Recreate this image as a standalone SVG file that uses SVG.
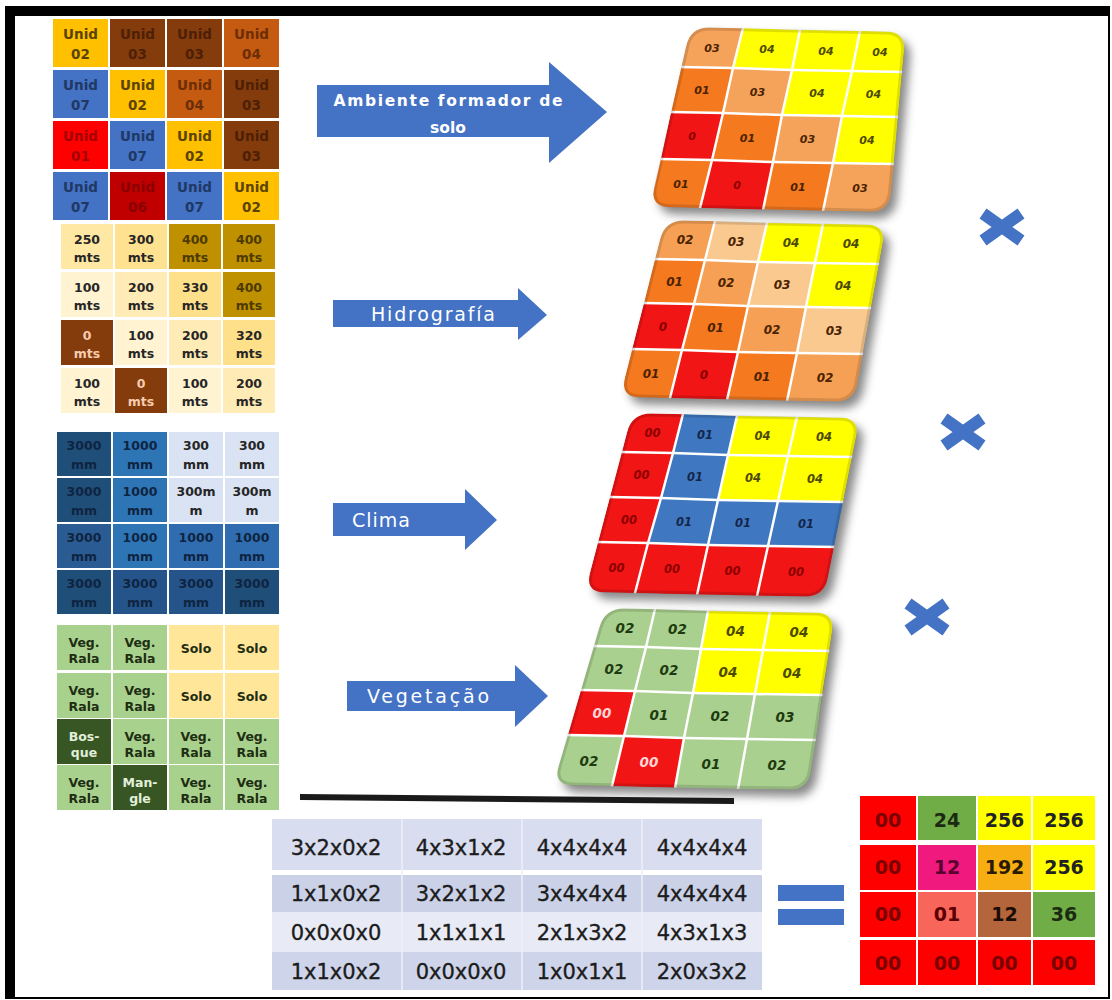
<svg xmlns="http://www.w3.org/2000/svg" width="1112" height="1000" viewBox="0 0 1112 1000">
<style>
.cellt{font-family:"DejaVu Sans",sans-serif;font-weight:bold;text-anchor:middle}
.u{font-size:13.5px}
.mt{font-size:12.5px}
.vg{font-size:12.5px}
.tt{font-family:"DejaVu Sans",sans-serif;font-weight:bold;font-style:italic;text-anchor:middle}
.grid{fill:none;stroke:#fff;stroke-width:2.5;stroke-linecap:square}
.bevel{fill:none;stroke:#000;stroke-opacity:.13;stroke-width:6}
.shadow{fill:#3a3a3a;opacity:.6}
.blk{fill:#4472C4}
.lbl{font-family:"DejaVu Sans",sans-serif;fill:#fff;text-anchor:middle}
.calc{font-family:"DejaVu Sans",sans-serif;font-size:21px;fill:#1c1c1c;stroke:#1c1c1c;stroke-width:.35;text-anchor:middle}
.res{font-family:"DejaVu Sans",sans-serif;font-size:19px;font-weight:bold;text-anchor:middle}
.mul{stroke:#4472C4;stroke-width:12;fill:none}
</style>
<defs>
<filter id="blur" x="-20%" y="-20%" width="140%" height="140%"><feGaussianBlur stdDeviation="5"/></filter>
<path id="o1" d="M710,27.5 L886,31.5 Q906,32 904,52 L891,192 Q889,212 869,211.7 L670,207.3 Q650,207 654,187 L686,47 Q690,27 710,27.5 Z"/>
<path id="o2" d="M685,220.5 L866,224.5 Q886,225 882.5,244.5 L857.5,382.5 Q854,402 834,401.6 L640,397.4 Q620,397 625,377.5 L660,239.5 Q665,220 685,220.5 Z"/>
<path id="o3" d="M652,413.4 L840,417.6 Q860,418 856,437.7 L828,577.3 Q824,597 804,596.6 L605,592.4 Q585,592 590,572.7 L627,432.3 Q632,413 652,413.4 Z"/>
<path id="o4" d="M625,608.4 L815,612.6 Q835,613 832,632.8 L811,770.2 Q808,790 788,789.6 L573,785.4 Q553,785 558.6,765.9 L599.4,627.1 Q605,608 625,608.4 Z"/>
<clipPath id="c1"><use href="#o1"/></clipPath>
<clipPath id="c2"><use href="#o2"/></clipPath>
<clipPath id="c3"><use href="#o3"/></clipPath>
<clipPath id="c4"><use href="#o4"/></clipPath>
</defs>

<g id="frame">
<rect x="5" y="6" width="1105" height="993" fill="#000"/>
<rect x="15" y="16" width="1093" height="981" fill="#fff"/>
</g>

<g id="grid-unidades" class="cellt u">
<rect x="53" y="19" width="55" height="48" fill="#FFC000"/><rect x="110" y="19" width="55" height="48" fill="#843C0C"/><rect x="167" y="19" width="55" height="48" fill="#843C0C"/><rect x="224" y="19" width="55" height="48" fill="#C55A11"/>
<rect x="53" y="70" width="55" height="48" fill="#4472C4"/><rect x="110" y="70" width="55" height="48" fill="#FFC000"/><rect x="167" y="70" width="55" height="48" fill="#C55A11"/><rect x="224" y="70" width="55" height="48" fill="#843C0C"/>
<rect x="53" y="121" width="55" height="48" fill="#FF0000"/><rect x="110" y="121" width="55" height="48" fill="#4472C4"/><rect x="167" y="121" width="55" height="48" fill="#FFC000"/><rect x="224" y="121" width="55" height="48" fill="#843C0C"/>
<rect x="53" y="172" width="55" height="48" fill="#4472C4"/><rect x="110" y="172" width="55" height="48" fill="#C00000"/><rect x="167" y="172" width="55" height="48" fill="#4472C4"/><rect x="224" y="172" width="55" height="48" fill="#FFC000"/>
<text x="80.5" y="39" fill="#5b4300">Unid</text><text x="80.5" y="59" fill="#5b4300">02</text>
<text x="137.5" y="39" fill="#4d1f05">Unid</text><text x="137.5" y="59" fill="#4d1f05">03</text>
<text x="194.5" y="39" fill="#4d1f05">Unid</text><text x="194.5" y="59" fill="#4d1f05">03</text>
<text x="251.5" y="39" fill="#6b2e06">Unid</text><text x="251.5" y="59" fill="#6b2e06">04</text>
<text x="80.5" y="90" fill="#1f3864">Unid</text><text x="80.5" y="110" fill="#1f3864">07</text>
<text x="137.5" y="90" fill="#5b4300">Unid</text><text x="137.5" y="110" fill="#5b4300">02</text>
<text x="194.5" y="90" fill="#6b2e06">Unid</text><text x="194.5" y="110" fill="#6b2e06">04</text>
<text x="251.5" y="90" fill="#4d1f05">Unid</text><text x="251.5" y="110" fill="#4d1f05">03</text>
<text x="80.5" y="141" fill="#a50000">Unid</text><text x="80.5" y="161" fill="#a50000">01</text>
<text x="137.5" y="141" fill="#1f3864">Unid</text><text x="137.5" y="161" fill="#1f3864">07</text>
<text x="194.5" y="141" fill="#5b4300">Unid</text><text x="194.5" y="161" fill="#5b4300">02</text>
<text x="251.5" y="141" fill="#4d1f05">Unid</text><text x="251.5" y="161" fill="#4d1f05">03</text>
<text x="80.5" y="192" fill="#1f3864">Unid</text><text x="80.5" y="212" fill="#1f3864">07</text>
<text x="137.5" y="192" fill="#8a0000">Unid</text><text x="137.5" y="212" fill="#8a0000">06</text>
<text x="194.5" y="192" fill="#1f3864">Unid</text><text x="194.5" y="212" fill="#1f3864">07</text>
<text x="251.5" y="192" fill="#5b4300">Unid</text><text x="251.5" y="212" fill="#5b4300">02</text>
</g>

<g id="grid-hidrografia" class="cellt mt">
<rect x="61" y="224" width="52" height="45" fill="#FFE8A3"/><rect x="115" y="224" width="52" height="45" fill="#FFE28F"/><rect x="169" y="224" width="52" height="45" fill="#BF9000"/><rect x="223" y="224" width="52" height="45" fill="#BF9000"/>
<rect x="61" y="272" width="52" height="45" fill="#FFF3D1"/><rect x="115" y="272" width="52" height="45" fill="#FFEBB5"/><rect x="169" y="272" width="52" height="45" fill="#FFE08A"/><rect x="223" y="272" width="52" height="45" fill="#BF9000"/>
<rect x="61" y="320" width="52" height="45" fill="#843C0C"/><rect x="115" y="320" width="52" height="45" fill="#FFF3D1"/><rect x="169" y="320" width="52" height="45" fill="#FFEBB5"/><rect x="223" y="320" width="52" height="45" fill="#FFE08A"/>
<rect x="61" y="368" width="52" height="45" fill="#FFF3D1"/><rect x="115" y="368" width="52" height="45" fill="#843C0C"/><rect x="169" y="368" width="52" height="45" fill="#FFF3D1"/><rect x="223" y="368" width="52" height="45" fill="#FFEBB5"/>
<g fill="#262626">
<text x="87" y="244">250</text><text x="87" y="262">mts</text>
<text x="141" y="244">300</text><text x="141" y="262">mts</text>
<text x="87" y="292">100</text><text x="87" y="310">mts</text>
<text x="141" y="292">200</text><text x="141" y="310">mts</text>
<text x="195" y="292">330</text><text x="195" y="310">mts</text>
<text x="141" y="340">100</text><text x="141" y="358">mts</text>
<text x="195" y="340">200</text><text x="195" y="358">mts</text>
<text x="249" y="340">320</text><text x="249" y="358">mts</text>
<text x="87" y="388">100</text><text x="87" y="406">mts</text>
<text x="195" y="388">100</text><text x="195" y="406">mts</text>
<text x="249" y="388">200</text><text x="249" y="406">mts</text>
</g>
<g fill="#4d3a00">
<text x="195" y="244">400</text><text x="195" y="262">mts</text>
<text x="249" y="244">400</text><text x="249" y="262">mts</text>
<text x="249" y="292">400</text><text x="249" y="310">mts</text>
</g>
<g fill="#F8CBAD">
<text x="87" y="340">0</text><text x="87" y="358">mts</text>
<text x="141" y="388">0</text><text x="141" y="406">mts</text>
</g>
</g>

<g id="grid-clima" class="cellt mt">
<rect x="57" y="432" width="54" height="44" fill="#1F4E79"/><rect x="113" y="432" width="54" height="44" fill="#2E75B6"/><rect x="169" y="432" width="54" height="44" fill="#DAE3F3"/><rect x="225" y="432" width="54" height="44" fill="#DAE3F3"/>
<rect x="57" y="478" width="54" height="44" fill="#1F4E79"/><rect x="113" y="478" width="54" height="44" fill="#2E75B6"/><rect x="169" y="478" width="54" height="44" fill="#DAE3F3"/><rect x="225" y="478" width="54" height="44" fill="#DAE3F3"/>
<rect x="57" y="524" width="54" height="44" fill="#2A5C93"/><rect x="113" y="524" width="54" height="44" fill="#2E75B6"/><rect x="169" y="524" width="54" height="44" fill="#2F6DB0"/><rect x="225" y="524" width="54" height="44" fill="#2F6DB0"/>
<rect x="57" y="570" width="54" height="44" fill="#1F4E79"/><rect x="113" y="570" width="54" height="44" fill="#24548A"/><rect x="169" y="570" width="54" height="44" fill="#24548A"/><rect x="225" y="570" width="54" height="44" fill="#1F4E79"/>
<g fill="#0f2440">
<text x="84" y="450">3000</text><text x="84" y="469">mm</text>
<text x="140" y="450">1000</text><text x="140" y="469">mm</text>
<text x="84" y="496">3000</text><text x="84" y="515">mm</text>
<text x="140" y="496">1000</text><text x="140" y="515">mm</text>
<text x="84" y="542">3000</text><text x="84" y="561">mm</text>
<text x="140" y="542">1000</text><text x="140" y="561">mm</text>
<text x="196" y="542">1000</text><text x="196" y="561">mm</text>
<text x="252" y="542">1000</text><text x="252" y="561">mm</text>
<text x="84" y="588">3000</text><text x="84" y="607">mm</text>
<text x="140" y="588">3000</text><text x="140" y="607">mm</text>
<text x="196" y="588">3000</text><text x="196" y="607">mm</text>
<text x="252" y="588">3000</text><text x="252" y="607">mm</text>
</g>
<g fill="#262626">
<text x="196" y="450">300</text><text x="196" y="469">mm</text>
<text x="252" y="450">300</text><text x="252" y="469">mm</text>
<text x="196" y="496">300m</text><text x="196" y="515">m</text>
<text x="252" y="496">300m</text><text x="252" y="515">m</text>
</g>
</g>

<g id="grid-vegetacao" class="cellt vg">
<rect x="57" y="625" width="54" height="45" fill="#A9D18E"/><rect x="113" y="625" width="54" height="45" fill="#A9D18E"/><rect x="169" y="625" width="54" height="45" fill="#FFE699"/><rect x="225" y="625" width="54" height="45" fill="#FFE699"/>
<rect x="57" y="673" width="54" height="45" fill="#A9D18E"/><rect x="113" y="673" width="54" height="45" fill="#A9D18E"/><rect x="169" y="673" width="54" height="45" fill="#FFE699"/><rect x="225" y="673" width="54" height="45" fill="#FFE699"/>
<rect x="57" y="719" width="54" height="45" fill="#375623"/><rect x="113" y="719" width="54" height="45" fill="#A9D18E"/><rect x="169" y="719" width="54" height="45" fill="#A9D18E"/><rect x="225" y="719" width="54" height="45" fill="#A9D18E"/>
<rect x="57" y="765" width="54" height="45" fill="#A9D18E"/><rect x="113" y="765" width="54" height="45" fill="#375623"/><rect x="169" y="765" width="54" height="45" fill="#A9D18E"/><rect x="225" y="765" width="54" height="45" fill="#A9D18E"/>
<g fill="#1e2d12">
<text x="84" y="647">Veg.</text><text x="84" y="663">Rala</text>
<text x="140" y="647">Veg.</text><text x="140" y="663">Rala</text>
<text x="196" y="653">Solo</text><text x="252" y="653">Solo</text>
<text x="84" y="695">Veg.</text><text x="84" y="711">Rala</text>
<text x="140" y="695">Veg.</text><text x="140" y="711">Rala</text>
<text x="196" y="701">Solo</text><text x="252" y="701">Solo</text>
<text x="140" y="741">Veg.</text><text x="140" y="757">Rala</text>
<text x="196" y="741">Veg.</text><text x="196" y="757">Rala</text>
<text x="252" y="741">Veg.</text><text x="252" y="757">Rala</text>
<text x="84" y="787">Veg.</text><text x="84" y="803">Rala</text>
<text x="196" y="787">Veg.</text><text x="196" y="803">Rala</text>
<text x="252" y="787">Veg.</text><text x="252" y="803">Rala</text>
</g>
<g fill="#E2EFDA">
<text x="84" y="741">Bos-</text><text x="84" y="757">que</text>
<text x="140" y="787">Man-</text><text x="140" y="803">gle</text>
</g>
</g>

<g id="connectors">
<g id="arrow-ambiente">
<path class="blk" d="M317,85 L549,85 L549,62 L607,112 L549,163 L549,137 L317,137 Z"/>
<text class="lbl" x="448" y="106" font-size="15.5" font-weight="bold" textLength="229" lengthAdjust="spacing">Ambiente formador de</text>
<text class="lbl" x="448" y="133" font-size="15.5" font-weight="bold">solo</text>
</g>
<g id="arrow-hidrografia">
<path class="blk" d="M333,300 L518,300 L518,288 L547,315 L518,340 L518,327 L333,327 Z"/>
<text class="lbl" x="433" y="321" font-size="19" textLength="124" lengthAdjust="spacing">Hidrografía</text>
</g>
<g id="arrow-clima">
<path class="blk" d="M333,503 L465,503 L465,489 L497,520 L465,550 L465,536 L333,536 Z"/>
<text class="lbl" x="381" y="527" font-size="19" textLength="58" lengthAdjust="spacing">Clima</text>
</g>
<g id="arrow-vegetacao">
<path class="blk" d="M347,681 L515,681 L515,665 L548,696 L515,727 L515,711 L347,711 Z"/>
<text class="lbl" x="428" y="703" font-size="19" textLength="122" lengthAdjust="spacing">Vegetação</text>
</g>
</g>

<g id="tile-ambiente">
<use href="#o1" class="shadow" transform="translate(6,7)" filter="url(#blur)"/>
<g clip-path="url(#c1)">
<polygon points="690,27 743,28 733,68 681,67" fill="#F5A35A"/>
<polygon points="743,28 800,30 792,70 733,68" fill="#FFFF00"/>
<polygon points="800,30 860,31 852,71 792,70" fill="#FFFF00"/>
<polygon points="860,31 906,32 902,72 852,71" fill="#FFFF00"/>
<polygon points="681,67 733,68 723,113 671,112" fill="#F5791F"/>
<polygon points="733,68 792,70 782,115 723,113" fill="#F5A35A"/>
<polygon points="792,70 852,71 842,116 782,115" fill="#FFFF00"/>
<polygon points="852,71 902,72 898,117 842,116" fill="#FFFF00"/>
<polygon points="671,112 723,113 712,160 661,159" fill="#F21515"/>
<polygon points="723,113 782,115 773,162 712,160" fill="#F5791F"/>
<polygon points="782,115 842,116 833,163 773,162" fill="#F5A35A"/>
<polygon points="842,116 898,117 894,164 833,163" fill="#FFFF00"/>
<polygon points="661,159 712,160 700,208 650,207" fill="#F5791F"/>
<polygon points="712,160 773,162 763,210 700,208" fill="#F21515"/>
<polygon points="773,162 833,163 823,211 763,210" fill="#F5791F"/>
<polygon points="833,163 894,164 889,212 823,211" fill="#F5A35A"/>
<polyline class="grid" points="681,67 733,68 792,70 852,71 902,72"/>
<polyline class="grid" points="671,112 723,113 782,115 842,116 898,117"/>
<polyline class="grid" points="661,159 712,160 773,162 833,163 894,164"/>
<polyline class="grid" points="743,28 733,68 723,113 712,160 700,208"/>
<polyline class="grid" points="800,30 792,70 782,115 773,162 763,210"/>
<polyline class="grid" points="860,31 852,71 842,116 833,163 823,211"/>
<use href="#o1" class="bevel"/>
</g>
<g class="tt" font-size="11" fill="#4a2200">
<text x="712" y="51.5">03</text><text x="767" y="53" fill="#4d4a00">04</text><text x="826" y="54.5" fill="#4d4a00">04</text><text x="880" y="55.5" fill="#4d4a00">04</text>
<text x="702" y="94">01</text><text x="757.5" y="95.5">03</text><text x="817" y="97" fill="#4d4a00">04</text><text x="873.5" y="98" fill="#4d4a00">04</text>
<text x="692" y="140" fill="#8b0000">0</text><text x="747.5" y="141.5">01</text><text x="807.5" y="143">03</text><text x="867" y="144" fill="#4d4a00">04</text>
<text x="681" y="187.5">01</text><text x="737" y="189" fill="#8b0000">0</text><text x="798" y="190.5">01</text><text x="860" y="191.5">03</text>
</g>
</g>

<g id="tile-hidrografia">
<use href="#o2" class="shadow" transform="translate(6,7)" filter="url(#blur)"/>
<g clip-path="url(#c2)">
<polygon points="665,220 715,221 705,260 655,259" fill="#F5A054"/>
<polygon points="715,221 767,223 758,262 705,260" fill="#F9C990"/>
<polygon points="767,223 823,224 815,263 758,262" fill="#FFFF00"/>
<polygon points="823,224 886,225 879,264 815,263" fill="#FFFF00"/>
<polygon points="655,259 705,260 694,304 644,303" fill="#F5791F"/>
<polygon points="705,260 758,262 748,306 694,304" fill="#F5A054"/>
<polygon points="758,262 815,263 806,307 748,306" fill="#F9C990"/>
<polygon points="815,263 879,264 871,308 806,307" fill="#FFFF00"/>
<polygon points="644,303 694,304 682,350 632,349" fill="#F21515"/>
<polygon points="694,304 748,306 738,352 682,350" fill="#F5791F"/>
<polygon points="748,306 806,307 797,353 738,352" fill="#F5A054"/>
<polygon points="806,307 871,308 863,354 797,353" fill="#F9C990"/>
<polygon points="632,349 682,350 670,398 620,397" fill="#F5791F"/>
<polygon points="682,350 738,352 727,400 670,398" fill="#F21515"/>
<polygon points="738,352 797,353 787,401 727,400" fill="#F5791F"/>
<polygon points="797,353 863,354 854,402 787,401" fill="#F5A054"/>
<polyline class="grid" points="655,259 705,260 758,262 815,263 879,264"/>
<polyline class="grid" points="644,303 694,304 748,306 806,307 871,308"/>
<polyline class="grid" points="632,349 682,350 738,352 797,353 863,354"/>
<polyline class="grid" points="715,221 705,260 694,304 682,350 670,398"/>
<polyline class="grid" points="767,223 758,262 748,306 738,352 727,400"/>
<polyline class="grid" points="823,224 815,263 806,307 797,353 787,401"/>
<use href="#o2" class="bevel"/>
</g>
<g class="tt" font-size="12" fill="#4a2200">
<text x="685" y="244">02</text><text x="736" y="245.5">03</text><text x="791" y="247" fill="#4d4a00">04</text><text x="851" y="248" fill="#4d4a00">04</text>
<text x="674.5" y="285.5">01</text><text x="726" y="287">02</text><text x="782" y="288.5">03</text><text x="843" y="289.5" fill="#4d4a00">04</text>
<text x="663" y="330.5" fill="#8b0000">0</text><text x="715.5" y="332">01</text><text x="772" y="333.5">02</text><text x="834" y="334.5">03</text>
<text x="651" y="377.5">01</text><text x="704" y="379" fill="#8b0000">0</text><text x="762" y="380.5">01</text><text x="825" y="381.5">02</text>
</g>
</g>

<g id="tile-clima">
<use href="#o3" class="shadow" transform="translate(6,7)" filter="url(#blur)"/>
<g clip-path="url(#c3)">
<polygon points="632,413 683,414 673,453 622,452" fill="#F21515"/>
<polygon points="683,414 737,416 728,455 673,453" fill="#3F78C1"/>
<polygon points="737,416 797,417 788,456 728,455" fill="#FFFF00"/>
<polygon points="797,417 860,418 852,457 788,456" fill="#FFFF00"/>
<polygon points="622,452 673,453 661,498 610,497" fill="#F21515"/>
<polygon points="673,453 728,455 718,500 661,498" fill="#3F78C1"/>
<polygon points="728,455 788,456 778,501 718,500" fill="#FFFF00"/>
<polygon points="788,456 852,457 843,502 778,501" fill="#FFFF00"/>
<polygon points="610,497 661,498 648,543 598,542" fill="#F21515"/>
<polygon points="661,498 718,500 708,545 648,543" fill="#3F78C1"/>
<polygon points="718,500 778,501 768,546 708,545" fill="#3F78C1"/>
<polygon points="778,501 843,502 834,547 768,546" fill="#3F78C1"/>
<polygon points="598,542 648,543 635,593 585,592" fill="#F21515"/>
<polygon points="648,543 708,545 697,595 635,593" fill="#F21515"/>
<polygon points="708,545 768,546 757,596 697,595" fill="#F21515"/>
<polygon points="768,546 834,547 824,597 757,596" fill="#F21515"/>
<polyline class="grid" points="622,452 673,453 728,455 788,456 852,457"/>
<polyline class="grid" points="610,497 661,498 718,500 778,501 843,502"/>
<polyline class="grid" points="598,542 648,543 708,545 768,546 834,547"/>
<polyline class="grid" points="683,414 673,453 661,498 648,543 635,593"/>
<polyline class="grid" points="737,416 728,455 718,500 708,545 697,595"/>
<polyline class="grid" points="797,417 788,456 778,501 768,546 757,596"/>
<use href="#o3" class="bevel"/>
</g>
<g class="tt" font-size="11.5" fill="#8b0000">
<text x="652.5" y="437">00</text><text x="705" y="438.5" fill="#14264a">01</text><text x="762.5" y="440" fill="#4d4a00">04</text><text x="824" y="441" fill="#4d4a00">04</text>
<text x="641.5" y="479">00</text><text x="695" y="480.5" fill="#14264a">01</text><text x="753" y="482" fill="#4d4a00">04</text><text x="815" y="483" fill="#4d4a00">04</text>
<text x="629" y="524">00</text><text x="684" y="525.5" fill="#14264a">01</text><text x="743" y="527" fill="#14264a">01</text><text x="806" y="528" fill="#14264a">01</text>
<text x="616.5" y="571.5">00</text><text x="672" y="573">00</text><text x="732.5" y="574.5">00</text><text x="796" y="575.5">00</text>
</g>
</g>

<g id="tile-vegetacao">
<use href="#o4" class="shadow" transform="translate(6,7)" filter="url(#blur)"/>
<g clip-path="url(#c4)">
<polygon points="605,608 655,609 646,647 594,646" fill="#A9D08E"/>
<polygon points="655,609 708,611 701,649 646,647" fill="#A9D08E"/>
<polygon points="708,611 770,612 763,650 701,649" fill="#FFFF00"/>
<polygon points="770,612 835,613 829,651 763,650" fill="#FFFF00"/>
<polygon points="594,646 646,647 635,691 581,690" fill="#A9D08E"/>
<polygon points="646,647 701,649 693,693 635,691" fill="#A9D08E"/>
<polygon points="701,649 763,650 755,694 693,693" fill="#FFFF00"/>
<polygon points="763,650 829,651 822,695 755,694" fill="#FFFF00"/>
<polygon points="581,690 635,691 624,736 568,735" fill="#F21515"/>
<polygon points="635,691 693,693 684,738 624,736" fill="#A9D08E"/>
<polygon points="693,693 755,694 747,739 684,738" fill="#A9D08E"/>
<polygon points="755,694 822,695 816,740 747,739" fill="#A9D08E"/>
<polygon points="568,735 624,736 612,786 553,785" fill="#A9D08E"/>
<polygon points="624,736 684,738 675,788 612,786" fill="#F21515"/>
<polygon points="684,738 747,739 738,789 675,788" fill="#A9D08E"/>
<polygon points="747,739 816,740 808,790 738,789" fill="#A9D08E"/>
<polyline class="grid" points="594,646 646,647 701,649 763,650 829,651"/>
<polyline class="grid" points="581,690 635,691 693,693 755,694 822,695"/>
<polyline class="grid" points="568,735 624,736 684,738 747,739 816,740"/>
<polyline class="grid" points="655,609 646,647 635,691 624,736 612,786"/>
<polyline class="grid" points="708,611 701,649 693,693 684,738 675,788"/>
<polyline class="grid" points="770,612 763,650 755,694 747,739 738,789"/>
<use href="#o4" class="bevel"/>
</g>
<g class="tt" font-size="13.5" fill="#1e3a10">
<text x="625" y="632.5">02</text><text x="677.5" y="634">02</text><text x="735.5" y="635.5" fill="#4d4a00">04</text><text x="799" y="636.5" fill="#4d4a00">04</text>
<text x="614" y="673.5">02</text><text x="669" y="675">02</text><text x="728" y="676.5" fill="#4d4a00">04</text><text x="792" y="677.5" fill="#4d4a00">04</text>
<text x="602" y="718" fill="#ffd6d6">00</text><text x="659" y="719.5">01</text><text x="720" y="721">02</text><text x="785" y="722">03</text>
<text x="589" y="765.5">02</text><text x="649" y="767" fill="#ffd6d6">00</text><text x="711" y="768.5">01</text><text x="777" y="769.5">02</text>
</g>
</g>

<g id="multiply-1"><path class="mul" d="M983,213.5 L1021,240.5 M983,240.5 L1021,213.5"/></g>
<g id="multiply-2"><path class="mul" d="M944,418.5 L982,445.5 M944,445.5 L982,418.5"/></g>
<g id="multiply-3"><path class="mul" d="M908,603.5 L946,630.5 M908,630.5 L946,603.5"/></g>

<g id="rule-line"><line x1="300" y1="797" x2="734" y2="801" stroke="#1a1a1a" stroke-width="6"/></g>

<g id="table-calculo">
<rect x="272" y="819" width="490" height="51" fill="#D8DDEF"/>
<rect x="272" y="875" width="490" height="37" fill="#CBD2E8"/>
<rect x="272" y="912" width="490" height="40" fill="#E8EBF5"/>
<rect x="272" y="952" width="490" height="38" fill="#CED4E9"/>
<g stroke="#EEF0F8" stroke-width="1.5">
<line x1="402" y1="819" x2="402" y2="990"/><line x1="522" y1="819" x2="522" y2="990"/><line x1="642" y1="819" x2="642" y2="990"/>
</g>
<g class="calc">
<text x="336" y="855">3x2x0x2</text><text x="461" y="855">4x3x1x2</text><text x="582" y="855">4x4x4x4</text><text x="702" y="855">4x4x4x4</text>
<text x="336" y="901">1x1x0x2</text><text x="461" y="901">3x2x1x2</text><text x="582" y="901">3x4x4x4</text><text x="702" y="901">4x4x4x4</text>
<text x="336" y="940">0x0x0x0</text><text x="461" y="940">1x1x1x1</text><text x="582" y="940">2x1x3x2</text><text x="702" y="940">4x3x1x3</text>
<text x="336" y="979">1x1x0x2</text><text x="461" y="979">0x0x0x0</text><text x="582" y="979">1x0x1x1</text><text x="702" y="979">2x0x3x2</text>
</g>
</g>

<g id="equals">
<rect x="778" y="885" width="66" height="16" fill="#4472C4"/>
<rect x="778" y="909" width="66" height="16" fill="#4472C4"/>
</g>

<g id="grid-resultado">
<rect x="860" y="796" width="56" height="44" fill="#FF0000"/><rect x="918" y="796" width="58" height="44" fill="#70AD47"/><rect x="978" y="796" width="53" height="44" fill="#FFFF00"/><rect x="1033" y="796" width="62" height="44" fill="#FFFF00"/>
<rect x="860" y="845" width="56" height="45" fill="#FF0000"/><rect x="918" y="845" width="58" height="45" fill="#F0197D"/><rect x="978" y="845" width="53" height="45" fill="#F7AE12"/><rect x="1033" y="845" width="62" height="45" fill="#FFFF00"/>
<rect x="860" y="892" width="56" height="45" fill="#FF0000"/><rect x="918" y="892" width="58" height="45" fill="#F8655A"/><rect x="978" y="892" width="53" height="45" fill="#B4653C"/><rect x="1033" y="892" width="62" height="45" fill="#70AD47"/>
<rect x="860" y="940" width="56" height="45" fill="#FF0000"/><rect x="918" y="940" width="58" height="45" fill="#FF0000"/><rect x="978" y="940" width="53" height="45" fill="#FF0000"/><rect x="1033" y="940" width="62" height="45" fill="#FF0000"/>
<g class="res" fill="#7a0000">
<text x="888" y="827">00</text><text x="947" y="827" fill="#1c2a12">24</text><text x="1004.5" y="827" fill="#222">256</text><text x="1064" y="827" fill="#222">256</text>
<text x="888" y="874">00</text><text x="947" y="874" fill="#5a0030">12</text><text x="1004.5" y="874" fill="#2a1a00">192</text><text x="1064" y="874" fill="#222">256</text>
<text x="888" y="921">00</text><text x="947" y="921" fill="#5a0000">01</text><text x="1004.5" y="921" fill="#1a0d05">12</text><text x="1064" y="921" fill="#1c2a12">36</text>
<text x="888" y="970">00</text><text x="947" y="970">00</text><text x="1004.5" y="970">00</text><text x="1064" y="970">00</text>
</g>
</g>
</svg>
